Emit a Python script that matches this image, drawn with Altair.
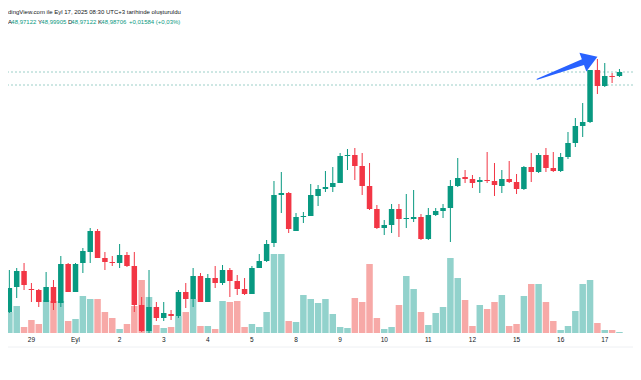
import altair as alt
import pandas as pd

# ---------------- data ----------------
day_labels = ["29", "Eyl", "2", "3", "4", "5", "8", "9", "10", "11", "12", "15", "16", "17"]
day_start_index = [3, 9, 15, 21, 27, 33, 39, 45, 51, 57, 63, 69, 75, 81]

open_ = [47.790, 47.915, 47.995, 47.905, 47.900, 47.840, 47.915, 47.835, 48.030, 47.890,
         48.035, 48.090, 48.195, 48.060, 48.040, 48.035, 48.075, 48.020, 47.825, 47.695,
         47.815, 47.760, 47.780, 47.770, 47.890, 47.855, 47.970, 47.840, 47.960, 47.935,
         48.000, 47.945, 47.905, 47.880, 48.010, 48.045, 48.135, 48.375, 48.385, 48.195,
         48.265, 48.270, 48.370, 48.405, 48.415, 48.435, 48.570, 48.575, 48.520, 48.420,
         48.305, 48.210, 48.225, 48.305, 48.255, 48.255, 48.265, 48.155, 48.275, 48.295,
         48.310, 48.420, 48.465, 48.455, 48.440, 48.450, 48.445, 48.420, 48.455, 48.440,
         48.405, 48.515, 48.490, 48.575, 48.510, 48.495, 48.565, 48.635, 48.720, 48.740,
         49.000, 48.920, 48.970, 48.970]
high = [48.000, 48.010, 48.035, 47.935, 47.905, 47.990, 47.950, 48.070, 48.035, 48.035,
        48.110, 48.210, 48.205, 48.090, 48.070, 48.130, 48.090, 48.090, 47.865, 48.000,
        47.840, 47.840, 47.800, 47.900, 47.935, 48.010, 47.985, 47.980, 48.020, 48.025,
        48.010, 47.975, 47.960, 48.020, 48.080, 48.150, 48.445, 48.490, 48.390, 48.285,
        48.290, 48.430, 48.425, 48.495, 48.515, 48.585, 48.605, 48.610, 48.585, 48.535,
        48.325, 48.250, 48.330, 48.330, 48.380, 48.400, 48.280, 48.310, 48.310, 48.330,
        48.450, 48.560, 48.500, 48.475, 48.465, 48.590, 48.535, 48.500, 48.545, 48.480,
        48.520, 48.585, 48.585, 48.610, 48.590, 48.585, 48.690, 48.760, 48.835, 49.000,
        49.055, 49.035, 48.985, 49.005]
low = [47.785, 47.860, 47.900, 47.840, 47.815, 47.840, 47.800, 47.815, 47.890, 47.890,
       47.985, 48.035, 48.060, 48.000, 48.020, 48.010, 48.015, 47.790, 47.690, 47.685,
       47.745, 47.745, 47.750, 47.760, 47.810, 47.815, 47.840, 47.840, 47.910, 47.925,
       47.865, 47.875, 47.875, 47.880, 48.010, 48.040, 48.115, 48.285, 48.185, 48.195,
       48.235, 48.270, 48.320, 48.390, 48.390, 48.435, 48.500, 48.450, 48.375, 48.300,
       48.205, 48.175, 48.185, 48.165, 48.210, 48.240, 48.150, 48.150, 48.270, 48.260,
       48.140, 48.415, 48.435, 48.410, 48.385, 48.435, 48.370, 48.385, 48.435, 48.380,
       48.400, 48.440, 48.485, 48.490, 48.490, 48.490, 48.555, 48.615, 48.665, 48.735,
       48.880, 48.915, 48.935, 48.965]
close = [47.910, 47.995, 47.925, 47.900, 47.840, 47.915, 47.835, 48.030, 47.890, 48.030,
         48.095, 48.195, 48.060, 48.040, 48.035, 48.075, 48.020, 47.825, 47.695, 47.815,
         47.760, 47.785, 47.770, 47.890, 47.855, 47.970, 47.840, 47.960, 47.935, 48.000,
         47.945, 47.905, 47.880, 48.010, 48.045, 48.130, 48.375, 48.385, 48.205, 48.265,
         48.270, 48.375, 48.405, 48.415, 48.435, 48.570, 48.575, 48.520, 48.420, 48.305,
         48.210, 48.225, 48.305, 48.255, 48.260, 48.265, 48.155, 48.275, 48.295, 48.310,
         48.420, 48.460, 48.455, 48.435, 48.450, 48.445, 48.425, 48.455, 48.440, 48.405,
         48.515, 48.490, 48.575, 48.510, 48.495, 48.565, 48.635, 48.720, 48.740, 49.000,
         48.920, 48.970, 48.965, 48.990]
volume = [21, 27, 6, 13, 9, 33, 32, 32, 12, 14,
          37, 34, 34, 21, 15, 4, 9, 27, 53, 36,
          8, 5, 6, 17, 21, 34, 7, 7, 4, 32,
          31, 32, 6, 9, 6, 21, 79, 79, 12, 11,
          38, 34, 30, 34, 19, 6, 5, 35, 31, 69,
          15, 4, 6, 28, 57, 44, 21, 8, 20, 26,
          75, 55, 33, 7, 28, 24, 31, 38, 7, 9,
          37, 49, 49, 31, 12, 3, 7, 22, 49, 53,
          10, 3, 3, 1]

price_lines = [48.990, 48.925]

# arrow drawing (candle index, price)
arrow_shaft_i = [71.8, 78.03]
arrow_shaft_p = [48.9535, 49.0395]
arrow_head_i = [78.22]
arrow_head_p = [49.042]

header_line1 = "dingView.com ile Eyl 17, 2025 08:30 UTC+3 tarihinde oluşturuldu"
header_parts = ["A", "48,97122", "Y", "48,99905", "D", "48,97122", "K", "48,98706", "+0,01584 (+0,03%)"]

# ---------------- styling ----------------
UP = "#089981"
DOWN = "#F23645"
VUP = "#92D2CC"
VDOWN = "#F7A9A7"
TXT = "#131722"
FONT = "Liberation Sans"
W, H = 625, 356

n = len(open_)
assert len(high) == n and len(low) == n and len(close) == n and len(volume) == n

df = pd.DataFrame({
    "i": list(range(n)), "open": open_, "high": high, "low": low,
    "close": close, "volume": volume,
})
df["ccol"] = [UP if c >= o else DOWN for o, c in zip(open_, close)]
df["vcol"] = [VUP if c >= o else VDOWN for o, c in zip(open_, close)]

xs = alt.Scale(domain=[0.4953, 84.163], nice=False, zero=False)
ps = alt.Scale(domain=[47.53, 49.31], nice=False, zero=False)
vs = alt.Scale(domain=[-31, 325], nice=False, zero=False)

base = alt.Chart(df)

vol = base.mark_bar(size=6.5, clip=True).encode(
    x=alt.X("i:Q", scale=xs, axis=None),
    y=alt.Y("volume:Q", scale=vs, axis=None),
    y2=alt.datum(0),
    color=alt.Color("vcol:N", scale=None),
)

lines = alt.Chart(pd.DataFrame({"p": price_lines})).mark_rule(
    color="#9CCFC8", strokeDash=[2, 2], strokeWidth=1
).encode(y=alt.Y("p:Q", scale=ps, axis=None))

wick = base.mark_rule(strokeWidth=1, clip=True).encode(
    x=alt.X("i:Q", scale=xs, axis=None),
    y=alt.Y("low:Q", scale=ps, axis=None),
    y2="high:Q",
    color=alt.Color("ccol:N", scale=None),
)

body = base.mark_bar(size=5.5, clip=True).encode(
    x=alt.X("i:Q", scale=xs, axis=None),
    y=alt.Y("open:Q", scale=ps, axis=None),
    y2="close:Q",
    color=alt.Color("ccol:N", scale=None),
)

shaft = alt.Chart(pd.DataFrame({"i": arrow_shaft_i, "p": arrow_shaft_p, "w": [1.0, 6.0]})).mark_trail(
    color="#2962FF"
).encode(
    x=alt.X("i:Q", scale=xs, axis=None),
    y=alt.Y("p:Q", scale=ps, axis=None),
    size=alt.Size("w:Q", scale=None, legend=None),
    order="i:Q",
)

head = alt.Chart(pd.DataFrame({"i": arrow_head_i, "p": arrow_head_p})).mark_point(
    shape="M1,0 L-0.107,-0.714 L-0.107,0.714 Z", size=784, angle=339.7,
    filled=True, opacity=1, color="#2962FF", strokeWidth=0
).encode(
    x=alt.X("i:Q", scale=xs, axis=None),
    y=alt.Y("p:Q", scale=ps, axis=None),
)

days = alt.Chart(pd.DataFrame({"i": day_start_index, "t": day_labels})).mark_text(
    font=FONT, fontSize=6.5, color=TXT, baseline="middle", align="center"
).encode(
    x=alt.X("i:Q", scale=xs, axis=None),
    y=alt.value(332),
    text="t:N",
)

bottom_line = alt.Chart(pd.DataFrame({"a": [0]})).mark_rule(color="#EEF0F3", strokeWidth=1).encode(
    x=alt.value(0), x2=alt.value(W), y=alt.value(339)
)

title1 = alt.Chart(pd.DataFrame({"t": [header_line1]})).mark_text(
    font=FONT, fontSize=6, color=TXT, align="left", baseline="middle"
).encode(x=alt.value(0), y=alt.value(4), text="t:N")

seg_x = [0, 3.3, 30, 33.3, 60, 63.3, 90, 93.3, 121]
seg_col = [TXT, UP, TXT, UP, TXT, UP, TXT, UP, UP]
segs = []
for txt, sx, sc in zip(header_parts, seg_x, seg_col):
    segs.append(
        alt.Chart(pd.DataFrame({"t": [txt]})).mark_text(
            font=FONT, fontSize=6, color=sc, align="left", baseline="middle"
        ).encode(x=alt.value(sx), y=alt.value(14), text="t:N")
    )

chart = alt.layer(
    vol, lines, bottom_line, wick, body, shaft, head, days, title1, *segs
).resolve_scale(y="independent").properties(
    width=W, height=H, padding=0, autosize=alt.AutoSizeParams(type="none"),
    background="white",
).configure_view(stroke=None)

chart.save("out.html", embed_options={"renderer": "svg", "actions": False})
